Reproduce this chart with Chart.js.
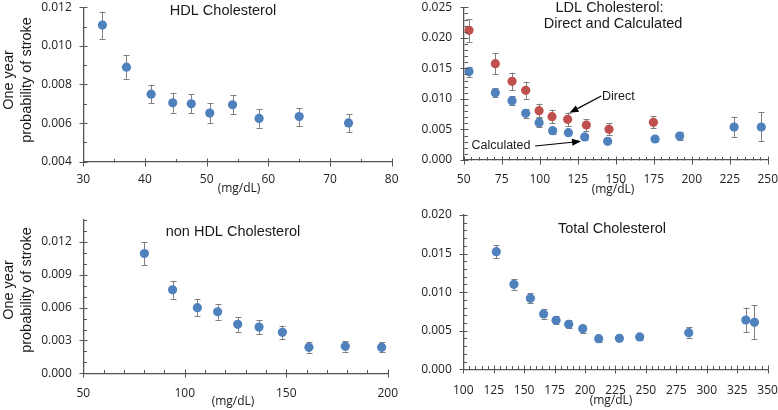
<!DOCTYPE html>
<html><head><meta charset="utf-8">
<script src="https://cdn.jsdelivr.net/npm/chart.js@4/dist/chart.umd.min.js"></script>
<style>
html,body{margin:0;padding:0;background:#fff;width:778px;height:410px;overflow:hidden}
canvas{position:absolute;left:0;top:0}
</style></head>
<body>
<canvas id="c1" width="778" height="410"></canvas>
<canvas id="c2" width="778" height="410"></canvas>
<canvas id="c3" width="778" height="410"></canvas>
<canvas id="c4" width="778" height="410"></canvas>
<script>
// ---------- DATA ----------
// HDL Cholesterol
const hdlX  = [33.1, 37.0, 41.0, 44.5, 47.5, 50.5, 54.2, 58.5, 65.0, 73.0];
const hdlY  = [0.01108, 0.00890, 0.00750, 0.00705, 0.00700, 0.00652, 0.00695, 0.00624, 0.00634, 0.00601];
const hdlHi = [0.01178, 0.00951, 0.00799, 0.00757, 0.00750, 0.00703, 0.00745, 0.00672, 0.00679, 0.00646];
const hdlLo = [0.01037, 0.00830, 0.00703, 0.00653, 0.00650, 0.00601, 0.00645, 0.00577, 0.00586, 0.00555];
const hdlXTicks = [30, 40, 50, 60, 70, 80];
const hdlYTicks = [0.004, 0.006, 0.008, 0.010, 0.012];

// LDL Cholesterol: Direct
const ldlDirX  = [53.5, 70.8, 81.8, 90.8, 99.6, 108.1, 118.4, 130.7, 145.6, 174.8];
const ldlDirY  = [0.02123, 0.01577, 0.01288, 0.01141, 0.00808, 0.00710, 0.00666, 0.00573, 0.00502, 0.00617];
const ldlDirHi = [0.02309, 0.01747, 0.01430, 0.01283, 0.00922, 0.00824, 0.00775, 0.00666, 0.00600, 0.00715];
const ldlDirLo = [0.01938, 0.01408, 0.01146, 0.00993, 0.00699, 0.00600, 0.00551, 0.00475, 0.00409, 0.00519];
// LDL Cholesterol: Calculated
const ldlCalX  = [53.5, 70.8, 81.8, 90.8, 99.6, 108.5, 118.9, 129.6, 144.7, 175.9, 192.1, 227.9, 245.8];
const ldlCalY  = [0.01447, 0.01103, 0.00972, 0.00764, 0.00611, 0.00480, 0.00448, 0.00377, 0.00306, 0.00344, 0.00393, 0.00540, 0.00540];
const ldlCalHi = [0.01528, 0.01174, 0.01048, 0.00835, 0.00693, 0.00529, 0.00497, 0.00426, 0.00333, 0.00382, 0.00453, 0.00710, 0.00781];
const ldlCalLo = [0.01359, 0.01032, 0.00901, 0.00693, 0.00540, 0.00431, 0.00404, 0.00328, 0.00278, 0.00306, 0.00333, 0.00371, 0.00306];
const ldlXTicks = [50, 75, 100, 125, 150, 175, 200, 225, 250];
const ldlYTicks = [0.000, 0.005, 0.010, 0.015, 0.020, 0.025];

// non HDL Cholesterol
const nonX  = [80.1, 94.0, 106.2, 116.2, 126.1, 136.6, 148.1, 161.2, 179.1, 197.0];
const nonY  = [0.01094, 0.00763, 0.00599, 0.00562, 0.00447, 0.00422, 0.00374, 0.00237, 0.00246, 0.00237];
const nonHi = [0.01200, 0.00845, 0.00675, 0.00635, 0.00514, 0.00486, 0.00435, 0.00289, 0.00292, 0.00283];
const nonLo = [0.00988, 0.00681, 0.00523, 0.00489, 0.00380, 0.00359, 0.00313, 0.00188, 0.00198, 0.00191];
const nonXTicks = [50, 100, 150, 200];
const nonYTicks = [0.000, 0.003, 0.006, 0.009, 0.012];

// Total Cholesterol
const totX  = [127.1, 141.6, 155.1, 166.0, 176.2, 186.6, 198.1, 211.2, 228.2, 244.9, 285.2, 332.1, 339.2];
const totY  = [0.01525, 0.01101, 0.00920, 0.00717, 0.00635, 0.00583, 0.00527, 0.00397, 0.00402, 0.00419, 0.00475, 0.00639, 0.00609];
const totHi = [0.01607, 0.01171, 0.00985, 0.00778, 0.00691, 0.00635, 0.00575, 0.00432, 0.00436, 0.00458, 0.00544, 0.00799, 0.00834];
const totLo = [0.01443, 0.01032, 0.00855, 0.00657, 0.00583, 0.00531, 0.00475, 0.00359, 0.00367, 0.00380, 0.00410, 0.00484, 0.00389];
const totXTicks = [100, 125, 150, 175, 200, 225, 250, 275, 300, 325, 350];
const totYTicks = [0.000, 0.005, 0.010, 0.015, 0.020];

// annotation arrows (data units) for LDL panel
const directArrow = {from: [140.5, 0.01048], to: [119.6, 0.00772]};
const calcArrow   = {from: [97.0, 0.00229], to: [127.2, 0.00305]};

// ---------- STYLE ----------
const BLUE = '#4F81BD', RED = '#C0504D', AXIS = '#555555', ERR = '#7f7f7f';
const TICKFONT = "'Open Sans', sans-serif";
const TITLEFONT = "'Liberation Sans', Arial, sans-serif";

const pts = (xs, ys) => xs.map((x, i) => ({x: x, y: ys[i]}));

function ds(xs, ys, lo, hi, color) {
  return {data: pts(xs, ys), errLo: lo, errHi: hi, backgroundColor: color,
          borderWidth: 0, pointRadius: 4.6, pointHoverRadius: 4.6, showLine: false};
}

const errorBarPlugin = {
  id: 'errorBars',
  beforeDatasetsDraw(chart) {
    const {ctx, scales: {x, y}} = chart;
    ctx.save();
    ctx.strokeStyle = ERR; ctx.lineWidth = 1;
    chart.data.datasets.forEach(d => {
      d.data.forEach((p, i) => {
        const px = Math.round(x.getPixelForValue(p.x)) + 0.5;
        const yl = y.getPixelForValue(d.errLo[i]);
        const yh = y.getPixelForValue(d.errHi[i]);
        ctx.beginPath();
        ctx.moveTo(px, yl); ctx.lineTo(px, yh);
        ctx.moveTo(px - 3, Math.round(yl) + 0.5); ctx.lineTo(px + 3, Math.round(yl) + 0.5);
        ctx.moveTo(px - 3, Math.round(yh) + 0.5); ctx.lineTo(px + 3, Math.round(yh) + 0.5);
        ctx.stroke();
      });
    });
    ctx.restore();
  }
};

function tickPlugin(xMajor, xMinor, yMajor, yMinor) {
  const isMajor = (v, arr) => arr.some(m => Math.abs(m - v) < 1e-9);
  return {
    id: 'axisTicks',
    afterDraw(chart) {
      const {ctx, chartArea: a, scales: {x, y}} = chart;
      ctx.save();
      ctx.strokeStyle = AXIS; ctx.lineWidth = 1;
      const ay = Math.round(a.bottom) + 0.5, ax = Math.round(a.left) + 0.5;
      let n = Math.round((x.max - x.min) / xMinor);
      for (let i = 0; i <= n; i++) {
        const v = x.min + i * xMinor;
        const px = Math.round(x.getPixelForValue(v)) + 0.5;
        ctx.beginPath();
        if (isMajor(v, xMajor)) { ctx.moveTo(px, ay - 4); ctx.lineTo(px, ay + 4); }
        else { ctx.moveTo(px, ay - 3.5); ctx.lineTo(px, ay); }
        ctx.stroke();
      }
      n = Math.round((y.max - y.min) / yMinor);
      for (let i = 0; i <= n; i++) {
        const v = y.min + i * yMinor;
        const py = Math.round(y.getPixelForValue(v)) + 0.5;
        ctx.beginPath();
        if (isMajor(v, yMajor)) { ctx.moveTo(ax - 4, py); ctx.lineTo(ax + 4, py); }
        else { ctx.moveTo(ax, py); ctx.lineTo(ax + 3.5, py); }
        ctx.stroke();
      }
      ctx.restore();
    }
  };
}

function textPlugin(items, arrows) {
  return {
    id: 'texts',
    afterDraw(chart) {
      const {ctx, scales: {x, y}} = chart;
      items.forEach(t => {
        ctx.save();
        ctx.font = t.font; ctx.fillStyle = t.color || '#1a1a1a';
        ctx.textAlign = t.align || 'center'; ctx.textBaseline = 'middle';
        ctx.translate(t.x, t.y);
        if (t.rot) ctx.rotate(t.rot);
        ctx.fillText(t.text, 0, 0);
        ctx.restore();
      });
      (arrows || []).forEach(ar => {
        const x1 = x.getPixelForValue(ar.from[0]), y1 = y.getPixelForValue(ar.from[1]);
        const x2 = x.getPixelForValue(ar.to[0]), y2 = y.getPixelForValue(ar.to[1]);
        const ang = Math.atan2(y2 - y1, x2 - x1), L = 9, W = 3.5;
        ctx.save();
        ctx.strokeStyle = '#000'; ctx.fillStyle = '#000'; ctx.lineWidth = 1.2;
        ctx.beginPath();
        ctx.moveTo(x1, y1);
        ctx.lineTo(x2 - L * Math.cos(ang), y2 - L * Math.sin(ang));
        ctx.stroke();
        ctx.beginPath();
        ctx.moveTo(x2, y2);
        ctx.lineTo(x2 - L * Math.cos(ang) + W * Math.sin(ang), y2 - L * Math.sin(ang) - W * Math.cos(ang));
        ctx.lineTo(x2 - L * Math.cos(ang) - W * Math.sin(ang), y2 - L * Math.sin(ang) + W * Math.cos(ang));
        ctx.closePath(); ctx.fill();
        ctx.restore();
      });
    }
  };
}

function makeChart(id, c) {
  return new Chart(document.getElementById(id), {
    type: 'scatter',
    data: {datasets: c.datasets},
    options: {
      responsive: false, animation: false, events: [],
      layout: {padding: c.pad},
      plugins: {legend: {display: false}, tooltip: {enabled: false}, title: {display: false}},
      scales: {
        x: {
          type: 'linear', min: c.xMin, max: c.xMax,
          afterBuildTicks: s => { s.ticks = c.xTicks.map(v => ({value: v})); },
          afterFit: s => { s.height = 30; s.paddingLeft = 0; s.paddingRight = 0; },
          grid: {display: false, drawTicks: true, tickLength: 8},
          border: {display: true, color: AXIS, width: 1.3},
          ticks: {padding: c.xPad, autoSkip: false, maxRotation: 0, color: '#222',
                  font: {family: TICKFONT, size: 12}, callback: v => String(v)}
        },
        y: {
          type: 'linear', min: c.yMin, max: c.yMax,
          afterBuildTicks: s => { s.ticks = c.yTicks.map(v => ({value: v})); },
          afterFit: s => { s.width = 50; s.paddingTop = 0; s.paddingBottom = 0; },
          grid: {display: false, drawTicks: true, tickLength: 8},
          border: {display: true, color: AXIS, width: 1.3},
          ticks: {padding: 3.5, autoSkip: false, color: '#222',
                  font: {family: TICKFONT, size: 12}, callback: v => Number(v).toFixed(3)}
        }
      }
    },
    plugins: [errorBarPlugin, tickPlugin(c.xTicks, c.xMinor, c.yTicks, c.yMinor),
              textPlugin(c.texts, c.arrows)]
  });
}

const TF = "14.5px " + TITLEFONT;
const UF = "12px " + TICKFONT;
const YF = "14.5px " + TITLEFONT;
const R = -Math.PI / 2;

makeChart('c1', {
  datasets: [ds(hdlX, hdlY, hdlLo, hdlHi, BLUE)],
  xMin: 30, xMax: 80, xTicks: hdlXTicks, xMinor: 5,
  yMin: 0.004, yMax: 0.012, yTicks: hdlYTicks, yMinor: 0.001,
  pad: {left: 33.3, right: 386.3, top: 7.3, bottom: 218.3}, xPad: 3,
  texts: [
    {text: 'HDL Cholesterol', x: 223, y: 11, font: TF},
    {text: '(mg/dL)', x: 239, y: 188.5, font: UF},
    {text: 'One year', x: 8.5, y: 80, font: YF, rot: R},
    {text: 'probability of stroke', x: 27, y: 80, font: YF, rot: R}
  ]
});

makeChart('c2', {
  datasets: [ds(ldlCalX, ldlCalY, ldlCalLo, ldlCalHi, BLUE), ds(ldlDirX, ldlDirY, ldlDirLo, ldlDirHi, RED)],
  xMin: 50, xMax: 250, xTicks: ldlXTicks, xMinor: 5,
  yMin: 0, yMax: 0.025, yTicks: ldlYTicks, yMinor: 0.001,
  pad: {left: 413.7, right: 10.3, top: 7.3, bottom: 220}, xPad: 4.7,
  texts: [
    {text: 'LDL Cholesterol:', x: 609.5, y: 7.5, font: TF},
    {text: 'Direct and Calculated', x: 613, y: 23.5, font: TF},
    {text: '(mg/dL)', x: 613, y: 190, font: UF},
    {text: 'Direct', x: 602, y: 96.5, font: "12.5px " + TITLEFONT, align: 'left'},
    {text: 'Calculated', x: 530.5, y: 146, font: "12.5px " + TITLEFONT, align: 'right'}
  ],
  arrows: [directArrow, calcArrow]
});

makeChart('c3', {
  datasets: [ds(nonX, nonY, nonLo, nonHi, BLUE)],
  xMin: 50, xMax: 200, xTicks: nonXTicks, xMinor: 10,
  yMin: 0, yMax: 0.014, yTicks: nonYTicks, yMinor: 0.001,
  pad: {left: 33.3, right: 390.3, top: 220, bottom: 6.7}, xPad: 4.7,
  texts: [
    {text: 'non HDL Cholesterol', x: 233, y: 231.5, font: TF},
    {text: '(mg/dL)', x: 233, y: 401.5, font: UF},
    {text: 'One year', x: 8.5, y: 290, font: YF, rot: R},
    {text: 'probability of stroke', x: 27, y: 290, font: YF, rot: R}
  ]
});

makeChart('c4', {
  datasets: [ds(totX, totY, totLo, totHi, BLUE)],
  xMin: 100, xMax: 350, xTicks: totXTicks, xMinor: 5,
  yMin: 0, yMax: 0.020, yTicks: totYTicks, yMinor: 0.001,
  pad: {left: 413.3, right: 10.4, top: 215, bottom: 10.7}, xPad: 5.7,
  texts: [
    {text: 'Total Cholesterol', x: 612, y: 228.5, font: TF},
    {text: '(mg/dL)', x: 611, y: 400.5, font: UF}
  ]
});
</script>
</body></html>
